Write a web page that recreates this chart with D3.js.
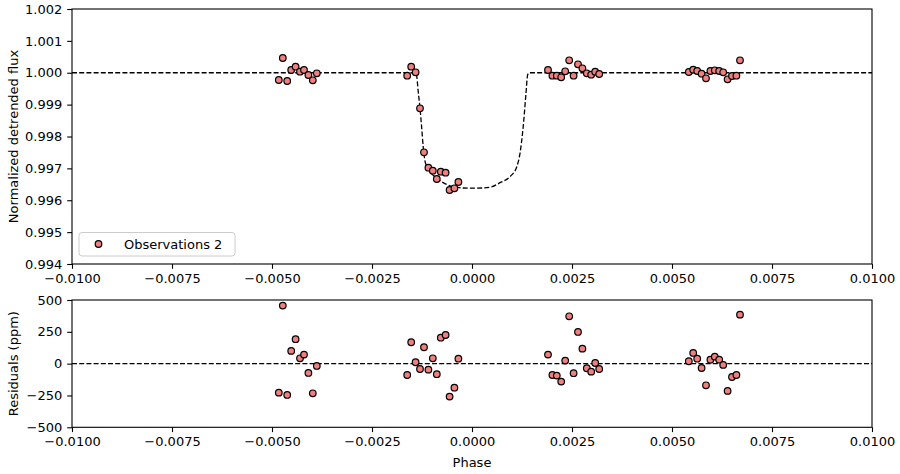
<!DOCTYPE html>
<html>
<head>
<meta charset="utf-8">
<script src="https://cdn.jsdelivr.net/npm/d3@7"></script>
<style>
  html, body { margin: 0; padding: 0; background: #fff; }
  svg { display: block; font-family: "DejaVu Sans", sans-serif; }
</style>
</head>
<body>
<svg id="chart" width="900" height="474"></svg>
<script>
// ---------------- data ----------------
const phase = [
  -0.00483, -0.00473, -0.00462, -0.00452, -0.00441, -0.00430, -0.00420, -0.00409, -0.00398, -0.00388,
  -0.00162, -0.00152, -0.00141, -0.00130, -0.00120, -0.00109, -0.00098, -0.00088, -0.00078, -0.00066, -0.00056, -0.00044, -0.00034,
  0.00190, 0.00201, 0.00212, 0.00223, 0.00233, 0.00243, 0.00254, 0.00265, 0.00276, 0.00287, 0.00298, 0.00308, 0.00318,
  0.00542, 0.00553, 0.00563, 0.00574, 0.00585, 0.00596, 0.00607, 0.00618, 0.00628, 0.00639, 0.00650, 0.00661, 0.00670
];
const flux = [
  0.999773, 1.000463, 0.999741, 1.000086, 1.000190, 1.000033, 1.000086, 0.999929, 0.999763, 0.999983,
  0.999907, 1.000190, 1.000014, 0.998885, 0.997504, 0.997021, 0.996927, 0.996667, 0.996896, 0.996864, 0.996322, 0.996375, 0.996573,
  1.000086, 0.999907, 0.999907, 0.999857, 1.000045, 1.000391, 0.999907, 1.000265, 1.000140, 0.999983, 0.999939, 1.000033, 0.999961,
  1.000024, 1.000096, 1.000055, 0.999970, 0.999826, 1.000055, 1.000077, 1.000055, 1.000014, 0.999795, 0.999898, 0.999907, 1.000391
];
const residuals = [
  -228, 456, -246, 100, 192, 42, 71, -73, -233, -18,
  -89, 168, 11, -42, 129, -47, 42, -83, 204, 225, -259, -189, 39,
  71, -89, -94, -141, 24, 372, -75, 249, 118, -36, -63, 5, -42,
  19, 84, 39, -34, -170, 31, 55, 31, -10, -214, -105, -89, 385
];
const modelPhase = [
  -0.0100, -0.00140, -0.00134, -0.00130, -0.00126, -0.00122, -0.00118, -0.00113, -0.00105, -0.00088, -0.00072, -0.00047, -0.00022, 0.00000,
  0.00025, 0.00050, 0.00070, 0.00095, 0.00112, 0.00120, 0.00128, 0.00135, 0.00139, 0.00143, 0.0100
];
const modelFlux = [
  1.0, 1.0, 0.999355, 0.998885, 0.998307, 0.997680, 0.997263, 0.997053, 0.996896, 0.996689, 0.996551, 0.996425, 0.996384, 0.996378,
  0.996384, 0.996425, 0.996551, 0.996739, 0.997053, 0.997473, 0.998307, 0.999355, 0.999930, 1.0, 1.0
];
const xTicks = [-0.0100, -0.0075, -0.0050, -0.0025, 0.0000, 0.0025, 0.0050, 0.0075, 0.0100];
const fluxTicks = [0.994, 0.995, 0.996, 0.997, 0.998, 0.999, 1.000, 1.001, 1.002];
const resTicks = [-500, -250, 0, 250, 500];
const legendLabel = "Observations 2";

// ---------------- layout ----------------
const svg = d3.select("#chart");
const L = 72, R = 872;
const topT = 9, topB = 264;
const botT = 300, botB = 427.3;
const markerFill = "#f08080";
const fontSize = 13;

const x = d3.scaleLinear().domain([-0.01, 0.01]).range([L, R]);
const yTop = d3.scaleLinear().domain([0.994, 1.002]).range([topB, topT]);
const yBot = d3.scaleLinear().domain([-500, 500]).range([botB, botT]);

const minus = s => s.replace("-", "\u2212");
const fmtX = v => minus(d3.format(".4f")(v));
const fmtF = v => d3.format(".3f")(v);
const fmtR = v => minus(d3.format("d")(v));

function styleAxis(g) {
  g.selectAll("path.domain").remove();
  g.selectAll(".tick line").attr("stroke", "#000").attr("stroke-width", 1.1);
  g.selectAll(".tick text").attr("font-family", "DejaVu Sans, sans-serif").attr("font-size", fontSize).attr("fill", "#000");
}

function frame(t, b) {
  svg.append("rect").attr("x", L).attr("y", t).attr("width", R - L).attr("height", b - t)
    .attr("fill", "none").attr("stroke", "#000").attr("stroke-width", 1.1);
}

// ---------- top panel ----------
const lineTop = d3.line().x((d, i) => x(modelPhase[i])).y((d, i) => yTop(modelFlux[i])).curve(d3.curveMonotoneX);
svg.append("path").datum(modelPhase).attr("d", lineTop)
  .attr("fill", "none").attr("stroke", "#000").attr("stroke-width", 1.3).attr("stroke-dasharray", "5,2.2");

svg.append("g").selectAll("circle").data(phase).join("circle")
  .attr("cx", d => x(d)).attr("cy", (d, i) => yTop(flux[i])).attr("r", 3.3)
  .attr("fill", markerFill).attr("stroke", "#000").attr("stroke-width", 1.2);

svg.append("g").attr("transform", `translate(0,${topB})`)
  .call(d3.axisBottom(x).tickValues(xTicks).tickFormat(fmtX).tickSize(4.8).tickPadding(5))
  .call(styleAxis);
svg.append("g").attr("transform", `translate(${L},0)`)
  .call(d3.axisLeft(yTop).tickValues(fluxTicks).tickFormat(fmtF).tickSize(4.8).tickPadding(5))
  .call(styleAxis);
frame(topT, topB);

// legend
const lg = svg.append("g");
lg.append("rect").attr("x", 79).attr("y", 232.5).attr("width", 156).attr("height", 23.5).attr("rx", 3)
  .attr("fill", "#fff").attr("fill-opacity", 0.8).attr("stroke", "#cccccc").attr("stroke-width", 1);
lg.append("circle").attr("cx", 98.5).attr("cy", 244).attr("r", 3.3)
  .attr("fill", markerFill).attr("stroke", "#000").attr("stroke-width", 1.2);
lg.append("text").attr("x", 124).attr("y", 249).attr("font-size", fontSize).attr("fill", "#000").text(legendLabel);

svg.append("text").attr("transform", `translate(18,${(topT + topB) / 2}) rotate(-90)`)
  .attr("text-anchor", "middle").attr("font-size", fontSize).attr("fill", "#000")
  .text("Normalized detrended flux");

// ---------- bottom panel ----------
svg.append("line").attr("x1", x(-0.01)).attr("x2", x(0.01)).attr("y1", yBot(0)).attr("y2", yBot(0))
  .attr("stroke", "#000").attr("stroke-width", 1.3).attr("stroke-dasharray", "5,2.2");

svg.append("g").selectAll("circle").data(phase).join("circle")
  .attr("cx", d => x(d)).attr("cy", (d, i) => yBot(residuals[i])).attr("r", 3.3)
  .attr("fill", markerFill).attr("stroke", "#000").attr("stroke-width", 1.2);

svg.append("g").attr("transform", `translate(0,${botB})`)
  .call(d3.axisBottom(x).tickValues(xTicks).tickFormat(fmtX).tickSize(4.8).tickPadding(5))
  .call(styleAxis);
svg.append("g").attr("transform", `translate(${L},0)`)
  .call(d3.axisLeft(yBot).tickValues(resTicks).tickFormat(fmtR).tickSize(4.8).tickPadding(5))
  .call(styleAxis);
frame(botT, botB);

svg.append("text").attr("transform", `translate(18,${(botT + botB) / 2}) rotate(-90)`)
  .attr("text-anchor", "middle").attr("font-size", fontSize).attr("fill", "#000")
  .text("Residuals (ppm)");
svg.append("text").attr("x", (L + R) / 2).attr("y", 467).attr("text-anchor", "middle")
  .attr("font-size", fontSize).attr("fill", "#000").text("Phase");
</script>
</body>
</html>
